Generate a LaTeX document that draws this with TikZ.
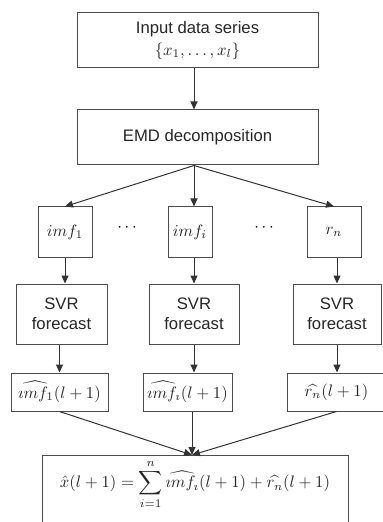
\documentclass[tikz,border=0pt]{standalone}
\usepackage[no-math]{fontspec}
\setmainfont{Liberation Sans}
\usetikzlibrary{arrows.meta}

\begin{document}
\begin{tikzpicture}[x=0.6pt, y=-0.6pt,
    box/.style={draw=black!70, line width=0.6pt, inner sep=0pt, align=center, text=black!85},
    freccia/.style={draw=black!80, line width=0.6pt, -{Triangle[length=4.8pt,width=4.2pt]}}]
    \useasboundingbox (0,0) rectangle (382,522);

    % Ingresso e decomposizione
    \node[box, minimum width=144.6pt, minimum height=33pt] (input) at (197.5,40.5) {Input data series\\[1pt]$\{x_1,\ldots,x_l\}$};
    \node[box, minimum width=144.6pt, minimum height=33pt] (emd) at (197.5,137.5) {EMD decomposition};

    % Componenti
    \node[box, minimum width=32.4pt, minimum height=30pt] (imf1) at (65,232) {$imf_1$};
    \node[box, minimum width=26.4pt, minimum height=30pt] (imfi) at (190,232) {$imf_i$};
    \node[box, minimum width=32.4pt, minimum height=30pt] (rn) at (334,232) {$r_n$};
    \node (dots1) at (127,228) {$\cdots$};
    \node (dots2) at (264,228) {$\cdots$};

    % Previsioni SVR
    \node[box, minimum width=54.6pt, minimum height=36pt] (svr1) at (61.5,314) {SVR\\forecast};
    \node[box, minimum width=54pt, minimum height=36pt] (svr2) at (194,314) {SVR\\forecast};
    \node[box, minimum width=52.8pt, minimum height=36pt] (svr3) at (337,314) {SVR\\forecast};

    % Previsioni delle componenti
    \node[box, minimum width=58.2pt, minimum height=22.8pt] (out1) at (59.5,392) {$\widehat{\imath mf_1}(l+1)$};
    \node[box, minimum width=53.4pt, minimum height=22.8pt] (out2) at (187.5,392) {$\widehat{\imath mf_\imath}(l+1)$};
    \node[box, minimum width=59.4pt, minimum height=22.8pt] (out3) at (336.5,392) {$\widehat{r_n}(l+1)$};

    % Ricostruzione (il bordo inferiore esce dalla pagina)
    \coordinate (merge) at (192,455);
    \node[box, minimum width=183.6pt, minimum height=42pt, text height=14pt, text depth=17.6pt, anchor=north] (result) at (195,455)
        {$\hat{x}(l+1)=\displaystyle\sum_{i=1}^{n}\widehat{\imath mf_\imath}(l+1)+\widehat{r_n}(l+1)$};

    % Frecce
    \draw[freccia] (input.south -| svr2) -- (emd.north -| svr2);
    \draw[freccia] (emd.south -| svr2) -- (imf1.north);
    \draw[freccia] (emd.south -| svr2) -- (imfi.north -| svr2);
    \draw[freccia] (emd.south -| svr2) -- (rn.north);

    \draw[freccia] (imf1.south) -- (svr1.north -| imf1);
    \draw[freccia] (imfi.south -| svr2) -- (svr2.north);
    \draw[freccia] (rn.south -| svr3) -- (svr3.north);

    \draw[freccia] (svr1.south -| out1) -- (out1.north);
    \draw[freccia] (svr2.south) -- (out2.north -| svr2);
    \draw[freccia] (svr3.south) -- (out3.north -| svr3);

    \draw[freccia] (out1.south) -- (merge);
    \draw[freccia] (out2.south -| merge) -- (merge);
    \draw[freccia] (out3.south) -- (merge);

\end{tikzpicture}
\end{document}
